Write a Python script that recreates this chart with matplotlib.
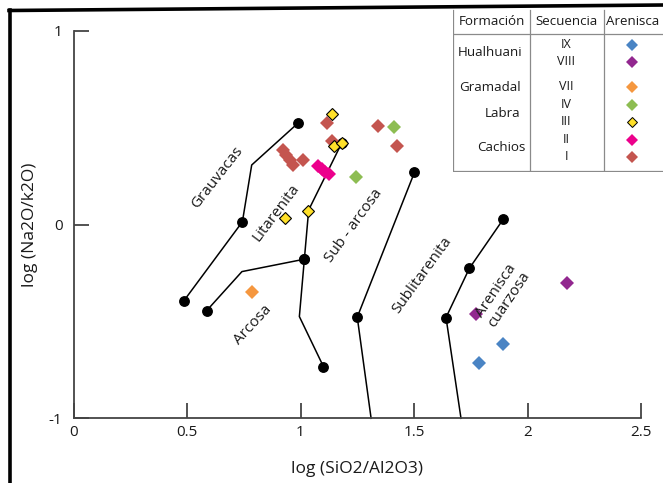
import matplotlib
matplotlib.use('Agg')
import matplotlib.pyplot as plt
from matplotlib.lines import Line2D

plt.rcParams['font.family'] = ['Open Sans', 'DejaVu Sans']

# ---------------- data ----------------
# classification boundary polylines (x = log SiO2/Al2O3, y = log Na2O/K2O)
grauvacas_x = [0.486, 0.744, 0.785, 0.988]
grauvacas_y = [-0.394, 0.014, 0.307, 0.522]
grauvacas_dots = [0, 1, 3]

arcosa_x = [0.587, 0.742, 1.017]
arcosa_y = [-0.444, -0.243, -0.179]
arcosa_dots = [0, 2]

litarenita_x = [1.181, 1.036, 1.017, 0.995, 1.101]
litarenita_y = [0.419, 0.075, -0.179, -0.475, -0.733]
litarenita_dots = [0, 2, 4]

subarcosa_x = [1.502, 1.250, 1.311]
subarcosa_y = [0.269, -0.478, -1.0]
subarcosa_dots = [0, 1]

cuarzosa_x = [1.893, 1.744, 1.641, 1.707]
cuarzosa_y = [0.027, -0.226, -0.480, -1.0]
cuarzosa_dots = [0, 1, 2]

# samples
cachios_I_x = [1.116, 1.343, 1.138, 1.423, 0.923, 0.938, 0.954, 0.968, 1.013]
cachios_I_y = [0.525, 0.508, 0.430, 0.406, 0.384, 0.358, 0.332, 0.307, 0.332]
cachios_II_x = [1.079, 1.095, 1.110, 1.126]
cachios_II_y = [0.300, 0.286, 0.273, 0.260]
labra_III_x = [1.138, 1.148, 1.181, 0.931, 1.035]
labra_III_y = [0.568, 0.406, 0.419, 0.035, 0.071]
labra_IV_x = [1.412, 1.246]
labra_IV_y = [0.504, 0.243]
gramadal_VII_x = [0.785]
gramadal_VII_y = [-0.346]
hualhuani_VIII_x = [2.176, 1.775]
hualhuani_VIII_y = [-0.300, -0.463]
hualhuani_IX_x = [1.893, 1.787]
hualhuani_IX_y = [-0.618, -0.715]

# region labels
region_labels = ['Grauvacas', 'Litarenita', 'Sub - arcosa', 'Sublitarenita',
                 'Arenisca\ncuarzosa', 'Arcosa']
region_x = [0.632, 0.893, 1.236, 1.534, 1.890, 0.789]
region_y = [0.240, 0.062, -0.008, -0.260, -0.365, -0.518]
region_rot = [52, 53, 54, 54, 56, 47]

x_ticks = [0, 0.5, 1, 1.5, 2, 2.5]
x_ticklabels = ['0', '0.5', '1', '1.5', '2', '2.5']
y_ticks = [-1, 0, 1]
y_ticklabels = ['-1', '0', '1']

# legend table
legend_headers = ['Formación', 'Secuencia', 'Arenisca']
legend_formations = ['Hualhuani', 'Gramadal', 'Labra', 'Cachios']
legend_sequences = ['IX', 'VIII', 'VII', 'IV', 'III', 'II', 'I']

c_blue = '#4a84c4'
c_purple = '#92278f'
c_orange = '#f5973f'
c_green = '#8dbd52'
c_yellow = '#ffe029'
c_magenta = '#ec008c'
c_brown = '#c4554f'
seq_colors = [c_blue, c_purple, c_orange, c_green, c_yellow, c_magenta, c_brown]

# ---------------- figure ----------------
W, H = 663, 483
fig = plt.figure(figsize=(W / 100, H / 100), dpi=100)
ax = fig.add_axes([73.5 / W, 1 - 418.3 / H, (641 - 73.5) / W, (418.3 - 30.7) / H])
ax.set_xlim(0, 2.5)
ax.set_ylim(-1, 1)

for s in ['top', 'right']:
    ax.spines[s].set_visible(False)
for s in ['left', 'bottom']:
    ax.spines[s].set_color('#444444')
    ax.spines[s].set_linewidth(1.3)

ax.set_xticks(x_ticks)
ax.set_xticklabels(x_ticklabels)
ax.set_yticks(y_ticks)
ax.set_yticklabels(y_ticklabels)
ax.tick_params(direction='in', length=11, width=1.3, color='#444444',
               labelsize=11, labelcolor='#1a1a1a')
ax.tick_params(axis='x', pad=5)
ax.tick_params(axis='y', pad=8)

ax.set_xlabel('log (SiO2/Al2O3)', fontsize=12.5, color='#1a1a1a', labelpad=15)
ax.set_ylabel('log (Na2O/k2O)', fontsize=12.5, color='#1a1a1a', labelpad=8)

# boundary lines with dots
for xs, ys, dots in [(grauvacas_x, grauvacas_y, grauvacas_dots),
                     (arcosa_x, arcosa_y, arcosa_dots),
                     (litarenita_x, litarenita_y, litarenita_dots),
                     (subarcosa_x, subarcosa_y, subarcosa_dots),
                     (cuarzosa_x, cuarzosa_y, cuarzosa_dots)]:
    ax.plot(xs, ys, color='black', lw=1.1, clip_on=False, zorder=2)
    ax.plot([xs[i] for i in dots], [ys[i] for i in dots], 'o', color='black',
            ms=6.8, clip_on=False, zorder=3)

# samples
ms = 6.8
ax.plot(cachios_I_x, cachios_I_y, 'D', color=c_brown, ms=ms, mew=0, zorder=4)
ax.plot(cachios_II_x, cachios_II_y, 'D', color=c_magenta, ms=ms, mew=0, zorder=5)
ax.plot(labra_IV_x, labra_IV_y, 'D', color=c_green, ms=ms, mew=0, zorder=4)
ax.plot(labra_III_x, labra_III_y, 'D', color=c_yellow, ms=ms - 0.9, mec='black', mew=0.8, zorder=6)
ax.plot(gramadal_VII_x, gramadal_VII_y, 'D', color=c_orange, ms=ms, mew=0, zorder=4)
ax.plot(hualhuani_VIII_x, hualhuani_VIII_y, 'D', color=c_purple, ms=ms, mew=0, zorder=4)
ax.plot(hualhuani_IX_x, hualhuani_IX_y, 'D', color=c_blue, ms=ms, mew=0, zorder=4)

for lab, x, y, r in zip(region_labels, region_x, region_y, region_rot):
    ax.text(x, y, lab, rotation=r, rotation_mode='anchor', ha='center', va='center',
            fontsize=11, color='#1a1a1a', linespacing=1.0, zorder=7)

# ---------------- legend table ----------------
tx0, tx1, ty0, ty1 = 453, 663, 8, 172
tab = fig.add_axes([tx0 / W, 1 - ty1 / H, (tx1 - tx0) / W, (ty1 - ty0) / H])
tab.set_xlim(tx0, tx1)
tab.set_ylim(ty1, ty0)
tab.axis('off')
lc = '#8a8a8a'
for xv in [453.5, 530, 604]:
    tab.plot([xv, xv], [10, 171.5], color=lc, lw=0.9)
for yv in [34, 171.5]:
    tab.plot([453.5, 663], [yv, yv], color=lc, lw=0.9)

hx = [491.5, 567, 633]
for h, x in zip(legend_headers, hx):
    tab.text(x, 22, h, ha='center', va='center', fontsize=9.6, color='#1a1a1a')

form_x = [490, 490, 503, 501]
form_y = [53, 88, 114, 148]
for f, x, y in zip(legend_formations, form_x, form_y):
    tab.text(x, y, f, ha='center', va='center', fontsize=9.6, color='#1a1a1a')

seq_y = [45, 62, 87, 105, 122, 140, 157]
for s, y, c in zip(legend_sequences, seq_y, seq_colors):
    tab.text(566, y, s, ha='center', va='center', fontsize=9, color='#1a1a1a')
    if c == c_yellow:
        tab.plot([632], [y], 'D', color=c, ms=5.6, mec='black', mew=0.7)
    else:
        tab.plot([632], [y], 'D', color=c, ms=6.4, mew=0)

# figure border (top and left)
fig.add_artist(Line2D([9 / W, 1], [1 - 10.5 / H, 1 - 5 / H], color='black', lw=2.6,
                      transform=fig.transFigure))
fig.add_artist(Line2D([10 / W, 10 / W], [0, 1 - 10 / H], color='black', lw=2.6,
                      transform=fig.transFigure))

fig.savefig('out.png', dpi=100)
